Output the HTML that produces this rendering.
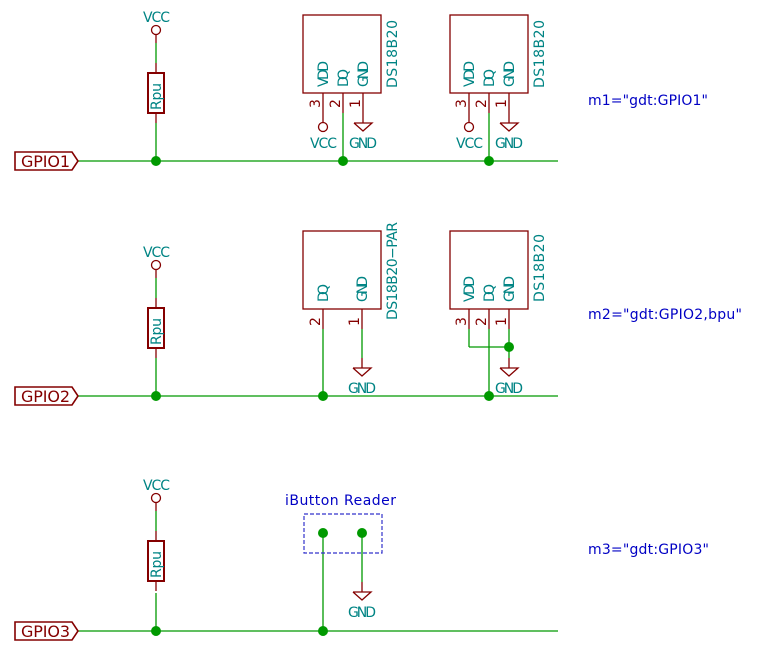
<!DOCTYPE html>
<html><head><meta charset="utf-8"><style>
html,body{margin:0;padding:0;background:#fff;width:758px;height:661px;overflow:hidden}
text{font-family:"DejaVu Sans","Liberation Sans",sans-serif}
.t{fill:#008484;font-size:14px}
.b{fill:#0000c4;font-size:14px}
.r{fill:#840000;font-size:14px}
</style></head><body>
<svg width="758" height="661" viewBox="0 0 758 661" xmlns="http://www.w3.org/2000/svg">
<defs>
<g id="res">
  <circle cx="0" cy="0" r="4.5" fill="none" stroke="#840000" stroke-width="1.3"/>
  <line x1="0" y1="4.5" x2="0" y2="13" stroke="#840000" stroke-width="1.3"/>
  <line x1="0" y1="13" x2="0" y2="33" stroke="#009900" stroke-width="1.3"/>
  <line x1="0" y1="33" x2="0" y2="43" stroke="#840000" stroke-width="1.3"/>
  <rect x="-8" y="43" width="16" height="40" fill="none" stroke="#840000" stroke-width="2"/>
  <line x1="0" y1="83" x2="0" y2="93" stroke="#840000" stroke-width="1.3"/>
  <text class="t" transform="translate(5,80) rotate(-90)" textLength="27">Rpu</text>
</g>
<g id="gnd">
  <polyline points="-9,0 9,0 0,8 -9,0" fill="none" stroke="#840000" stroke-width="1.3"/>
</g>
</defs>

<g stroke="#009900" stroke-width="1.3" fill="none">
  <line x1="78" y1="161" x2="558" y2="161"/>
  <line x1="78" y1="396" x2="558" y2="396"/>
  <line x1="78" y1="631" x2="558" y2="631"/>
  <line x1="156" y1="123" x2="156" y2="161"/>
  <line x1="156" y1="358" x2="156" y2="396"/>
  <line x1="156" y1="593" x2="156" y2="631"/>
  <line x1="343" y1="113" x2="343" y2="161"/>
  <line x1="489" y1="113" x2="489" y2="161"/>
  <line x1="323" y1="329" x2="323" y2="396"/>
  <line x1="362" y1="329" x2="362" y2="358"/>
  <line x1="469" y1="329" x2="469" y2="347"/>
  <line x1="469" y1="347" x2="509" y2="347"/>
  <line x1="509" y1="329" x2="509" y2="358"/>
  <line x1="489" y1="329" x2="489" y2="396"/>
  <line x1="323" y1="533" x2="323" y2="631"/>
  <line x1="362" y1="533" x2="362" y2="582"/>
</g>

<g fill="#009900">
  <circle cx="156" cy="161" r="5"/><circle cx="343" cy="161" r="5"/><circle cx="489" cy="161" r="5"/>
  <circle cx="156" cy="396" r="5"/><circle cx="323" cy="396" r="5"/><circle cx="489" cy="396" r="5"/>
  <circle cx="509" cy="347" r="5"/>
  <circle cx="156" cy="631" r="5"/><circle cx="323" cy="631" r="5"/>
  <circle cx="323" cy="533" r="5"/><circle cx="362" cy="533" r="5"/>
</g>

<g fill="none" stroke="#840000" stroke-width="1.6">
  <polygon points="15,152 72,152 78,161 72,170 15,170"/>
  <polygon points="15,387 72,387 78,396 72,405 15,405"/>
  <polygon points="15,622 72,622 78,631 72,640 15,640"/>
</g>
<g class="r" style="font-size:16px">
  <text x="21" y="167" textLength="49" fill="#840000">GPIO1</text>
  <text x="21" y="402" textLength="49" fill="#840000">GPIO2</text>
  <text x="21" y="637" textLength="49" fill="#840000">GPIO3</text>
</g>

<use href="#res" x="156" y="30"/>
<text class="t" x="143" y="22" textLength="27">VCC</text>
<use href="#res" x="156" y="265"/>
<text class="t" x="143" y="257" textLength="27">VCC</text>
<use href="#res" x="156" y="498"/>
<text class="t" x="143" y="490" textLength="27">VCC</text>

<g stroke="#840000" stroke-width="1.3" fill="none">
  <rect x="303" y="15" width="78" height="78"/>
  <line x1="323" y1="93" x2="323" y2="122"/>
  <circle cx="323" cy="127" r="4.5"/>
  <line x1="343" y1="93" x2="343" y2="113"/>
  <line x1="363" y1="93" x2="363" y2="123"/>
  <rect x="450" y="15" width="78" height="78"/>
  <line x1="469" y1="93" x2="469" y2="122"/>
  <circle cx="469" cy="127" r="4.5"/>
  <line x1="489" y1="93" x2="489" y2="113"/>
  <line x1="509" y1="93" x2="509" y2="123"/>
</g>
<use href="#gnd" x="363" y="123"/>
<use href="#gnd" x="509" y="123"/>
<g class="t">
  <text transform="translate(328,87) rotate(-90)" textLength="26">VDD</text>
  <text transform="translate(348,87) rotate(-90)" textLength="18">DQ</text>
  <text transform="translate(368,87) rotate(-90)" textLength="26">GND</text>
  <text transform="translate(397,88) rotate(-90)" textLength="68">DS18B20</text>
  <text x="310" y="148" textLength="27">VCC</text>
  <text x="349" y="148" textLength="28">GND</text>
  <text transform="translate(474,87) rotate(-90)" textLength="26">VDD</text>
  <text transform="translate(494,87) rotate(-90)" textLength="18">DQ</text>
  <text transform="translate(514,87) rotate(-90)" textLength="26">GND</text>
  <text transform="translate(544,88) rotate(-90)" textLength="68">DS18B20</text>
  <text x="456" y="148" textLength="27">VCC</text>
  <text x="495" y="148" textLength="28">GND</text>
</g>
<g class="r">
  <text transform="translate(320,108) rotate(-90)" fill="#840000">3</text>
  <text transform="translate(340,108) rotate(-90)" fill="#840000">2</text>
  <text transform="translate(360,108) rotate(-90)" fill="#840000">1</text>
  <text transform="translate(466,108) rotate(-90)" fill="#840000">3</text>
  <text transform="translate(486,108) rotate(-90)" fill="#840000">2</text>
  <text transform="translate(506,108) rotate(-90)" fill="#840000">1</text>
</g>

<g stroke="#840000" stroke-width="1.3" fill="none">
  <rect x="303" y="231" width="78" height="78"/>
  <line x1="323" y1="309" x2="323" y2="329"/>
  <line x1="362" y1="309" x2="362" y2="329"/>
  <line x1="362" y1="358" x2="362" y2="368"/>
  <rect x="450" y="231" width="78" height="78"/>
  <line x1="469" y1="309" x2="469" y2="329"/>
  <line x1="489" y1="309" x2="489" y2="329"/>
  <line x1="509" y1="309" x2="509" y2="329"/>
  <line x1="509" y1="358" x2="509" y2="368"/>
  <line x1="362" y1="582" x2="362" y2="592"/>
</g>
<use href="#gnd" x="362" y="368"/>
<use href="#gnd" x="509" y="368"/>
<use href="#gnd" x="362" y="592"/>
<g class="t">
  <text transform="translate(328,302) rotate(-90)" textLength="18">DQ</text>
  <text transform="translate(367,302) rotate(-90)" textLength="26">GND</text>
  <text transform="translate(397,320) rotate(-90)" textLength="98">DS18B20−PAR</text>
  <text transform="translate(474,302) rotate(-90)" textLength="26">VDD</text>
  <text transform="translate(494,302) rotate(-90)" textLength="18">DQ</text>
  <text transform="translate(514,302) rotate(-90)" textLength="26">GND</text>
  <text transform="translate(544,302) rotate(-90)" textLength="68">DS18B20</text>
  <text x="348" y="393" textLength="28">GND</text>
  <text x="495" y="393" textLength="28">GND</text>
  <text x="348" y="617" textLength="28">GND</text>
</g>
<g class="r">
  <text transform="translate(320,326) rotate(-90)" fill="#840000">2</text>
  <text transform="translate(359,326) rotate(-90)" fill="#840000">1</text>
  <text transform="translate(466,326) rotate(-90)" fill="#840000">3</text>
  <text transform="translate(486,326) rotate(-90)" fill="#840000">2</text>
  <text transform="translate(506,326) rotate(-90)" fill="#840000">1</text>
</g>

<rect x="304" y="514" width="78" height="39" fill="none" stroke="#3333cc" stroke-width="1.2" stroke-dasharray="4,2"/>
<text class="b" x="285" y="505" textLength="111">iButton Reader</text>

<text class="b" x="588" y="105" textLength="120">m1="gdt:GPIO1"</text>
<text class="b" x="588" y="319" textLength="154">m2="gdt:GPIO2,bpu"</text>
<text class="b" x="588" y="554" textLength="121">m3="gdt:GPIO3"</text>
</svg>
</body></html>
